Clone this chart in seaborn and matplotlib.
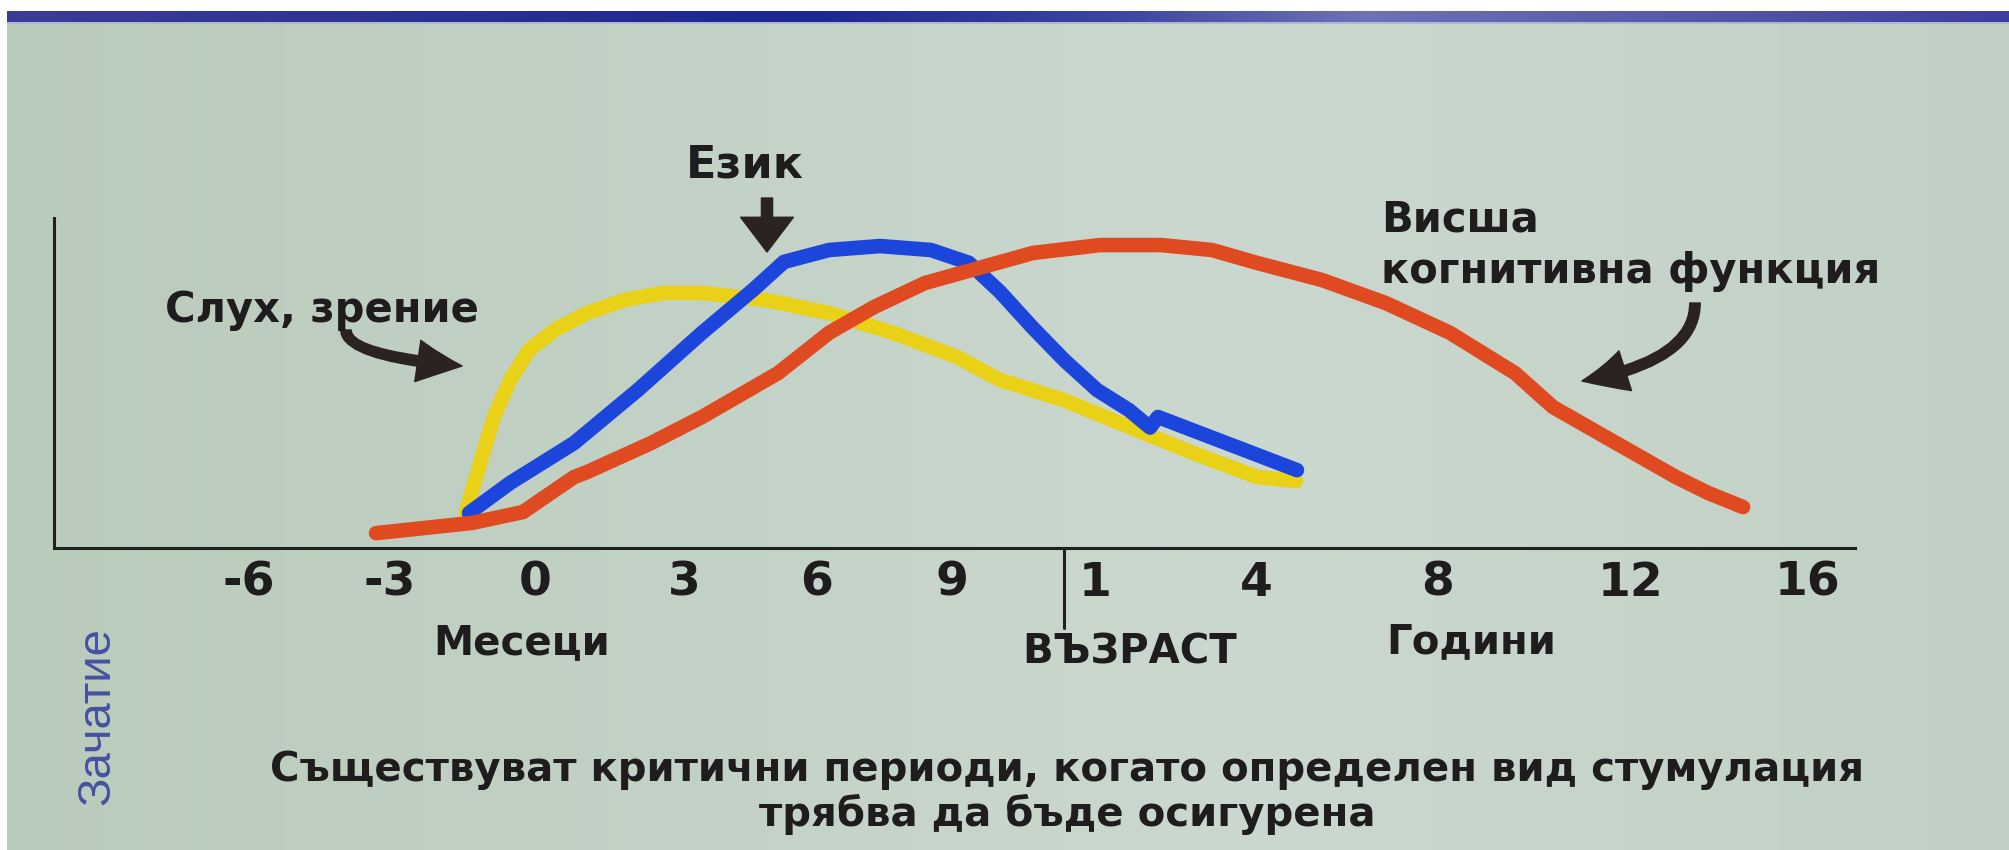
import numpy as np
import matplotlib
matplotlib.use("Agg")
import matplotlib.pyplot as plt
import seaborn as sns
from matplotlib.colors import to_rgb

# ---------------- data ----------------
tick_labels = ["-6", "-3", "0", "3", "6", "9", "1", "4", "8", "12", "16"]
tick_idx = np.arange(len(tick_labels))

# x values are positions along the age axis in tick units (0 = "-6" months ... 10 = "16" years)
vision_x = [1.524, 1.628, 1.717, 1.828, 1.959, 2.134, 2.349, 2.604, 2.859, 3.135, 3.609,
            4.089, 4.563, 5.035, 5.336, 5.783, 6.211, 6.609, 7.005, 7.220]
vision_y = [10.9, 26.7, 39.7, 50.9, 60.0, 66.1, 71.2, 75.2, 77.3, 77.3, 75.2,
            71.2, 65.2, 57.9, 50.9, 44.8, 36.7, 28.8, 21.5, 20.3]

language_x = [1.545, 1.828, 2.262, 2.691, 3.135, 3.519, 3.752, 4.089, 4.467, 4.844,
              5.119, 5.336, 5.559, 5.783, 6.012, 6.211, 6.342, 6.391, 7.225]
language_y = [10.6, 19.7, 31.8, 47.9, 65.2, 78.2, 86.7, 90.3, 91.5, 90.3,
              86.4, 77.6, 67.0, 57.0, 47.9, 41.8, 36.5, 39.7, 23.6]

cognition_x = [0.901, 1.566, 1.917, 2.262, 2.349, 2.779, 3.135, 3.707, 4.089, 4.422,
               4.800, 5.217, 5.566, 6.031, 6.410, 6.727, 7.005, 7.363, 7.714, 8.062,
               8.399, 8.596, 8.896, 9.254, 9.435, 9.633]
cognition_y = [4.5, 7.6, 10.9, 21.5, 23.0, 31.8, 39.7, 53.0, 65.2, 73.0,
               80.3, 85.2, 89.4, 91.8, 91.8, 90.3, 86.4, 81.2, 74.2, 65.2,
               53.0, 42.7, 32.7, 21.5, 16.7, 12.4]

birth_x = 5.78  # boundary between months and years

# ---------------- layout / style ----------------
W, H = 2009, 850
tick_px = np.array([249, 390, 535, 684, 817, 952, 1095, 1256, 1438, 1631, 1808])
anchor_idx = np.r_[-3, tick_idx, 13]
anchor_px = np.r_[tick_px[0] - 3 * 141, tick_px, tick_px[-1] + 3 * 177]

def forward(x):
    return np.interp(x, anchor_idx, anchor_px)

def inverse(p):
    return np.interp(p, anchor_px, anchor_idx)

def fx(px):
    return px / W

def fy(py):
    return 1 - py / H

YELLOW = "#e8d116"
BLUE = "#1c45dc"
RED = "#df4a20"
TXT = "#1e1c1c"
ARROW = "#2b2222"
AXC = "#202020"

sns.set_style("white")
plt.rcParams["font.family"] = ["DejaVu Sans"]

fig = plt.figure(figsize=(W / 100, H / 100), dpi=100)

# background (slide photo tint + title band)
bg = fig.add_axes([0, 0, 1, 1], zorder=-10)
bg.set_axis_off()
xs = np.linspace(0, 1, W)
stops = [0.0, 0.35, 0.62, 1.0]
cols = np.array([to_rgb("#b9cbbb"), to_rgb("#c3d2c6"), to_rgb("#cbd8cf"), to_rgb("#c1d0c5")])
row = np.stack([np.interp(xs, stops, cols[:, k]) for k in range(3)], axis=-1)
img = np.repeat(row[None, :, :], H, axis=0)
bstops = [0.0, 0.4, 0.55, 0.68, 1.0]
bcols = np.array([to_rgb("#3b3d96"), to_rgb("#1c2691"), to_rgb("#3a44a0"), to_rgb("#6c72b4"), to_rgb("#3c3e9c")])
brow = np.stack([np.interp(xs, bstops, bcols[:, k]) for k in range(3)], axis=-1)
img[11:22, :, :] = brow
img[22:24, :, :] = to_rgb("#aeb8d6")
img[:11, :, :] = 1.0
img[:, :7, :] = 1.0
bg.imshow(img, aspect="auto", extent=(0, 1, 0, 1), interpolation="bilinear")
bg.set_xlim(0, 1)
bg.set_ylim(0, 1)

# main axes
ax = fig.add_axes([fx(54), fy(548), (1855 - 54) / W, (548 - 218) / H])
ax.set_facecolor("none")
ax.set_xscale("function", functions=(forward, inverse))
ax.set_xlim(inverse(54), inverse(1855))
ax.set_ylim(0, 100)

lw = 10.5
sns.lineplot(x=vision_x, y=vision_y, ax=ax, color=YELLOW, linewidth=lw, sort=False,
             estimator=None, solid_capstyle="round", solid_joinstyle="round", zorder=3)
sns.lineplot(x=language_x, y=language_y, ax=ax, color=BLUE, linewidth=lw, sort=False,
             estimator=None, solid_capstyle="round", solid_joinstyle="round", zorder=4)
sns.lineplot(x=cognition_x, y=cognition_y, ax=ax, color=RED, linewidth=lw, sort=False,
             estimator=None, solid_capstyle="round", solid_joinstyle="round", zorder=5)

for s in ["top", "right"]:
    ax.spines[s].set_visible(False)
for s in ["left", "bottom"]:
    ax.spines[s].set_color(AXC)
    ax.spines[s].set_linewidth(2.2)

ax.set_yticks([])
ax.set_xticks(tick_idx)
ax.set_xticklabels(tick_labels, fontsize=34, fontweight="bold", color=TXT)
ax.tick_params(axis="x", length=0, pad=9)
ax.minorticks_off()
ax.set_xlabel("")
ax.set_ylabel("")

ax.axvline(birth_x, ymin=-80 / 330, ymax=0, color=AXC, lw=2.2, clip_on=False)

# arrows
def py2v(py):
    return (548 - py) / 3.3

arrow_kw = dict(arrowstyle="simple,head_length=3.2,head_width=3.0,tail_width=0.75",
                color=ARROW, shrinkA=0, shrinkB=0, mutation_scale=10)
ax.annotate("", xy=(inverse(462), py2v(366)), xytext=(inverse(346), py2v(330)),
            arrowprops=dict(connectionstyle="angle3,angleA=90,angleB=-5", **arrow_kw),
            annotation_clip=False)
ax.annotate("", xy=(inverse(767), py2v(252)), xytext=(inverse(767), py2v(198)),
            arrowprops=dict(connectionstyle="arc3,rad=0",
                            arrowstyle="simple,head_length=2.5,head_width=3.8,tail_width=0.8",
                            color=ARROW, shrinkA=0, shrinkB=0, mutation_scale=10),
            annotation_clip=False)
ax.annotate("", xy=(inverse(1582), py2v(381)), xytext=(inverse(1695), py2v(303)),
            arrowprops=dict(connectionstyle="angle3,angleA=90,angleB=10", **arrow_kw),
            annotation_clip=False)

# texts
tk = dict(fontweight="bold", color=TXT)
fig.text(fx(322), fy(322), "Слух, зрение", ha="center", va="baseline", fontsize=30, **tk)
fig.text(fx(745), fy(177), "Език", ha="center", va="baseline", fontsize=32, **tk)
fig.text(fx(1381), fy(232), "Висша", ha="left", va="baseline", fontsize=30, **tk)
fig.text(fx(1381), fy(283), "когнитивна функция", ha="left", va="baseline", fontsize=30, **tk)
fig.text(fx(522), fy(654), "Месеци", ha="center", va="baseline", fontsize=29, **tk)
fig.text(fx(1130), fy(663), "ВЪЗРАСТ", ha="center", va="baseline", fontsize=29, **tk)
fig.text(fx(1471), fy(653), "Години", ha="center", va="baseline", fontsize=29, **tk)
fig.text(fx(1067), fy(781), "Съществуват критични периоди, когато определен вид стумулация",
         ha="center", va="baseline", fontsize=29, **tk)
fig.text(fx(1067), fy(826), "трябва да бъде осигурена", ha="center", va="baseline", fontsize=29, **tk)
fig.text(fx(97), fy(716), "Зачатие", ha="center", va="center", rotation=90, fontsize=34,
         color="#4452a2", family=["Liberation Sans", "DejaVu Sans"])

fig.savefig("out.png", dpi=100, facecolor=fig.get_facecolor())
